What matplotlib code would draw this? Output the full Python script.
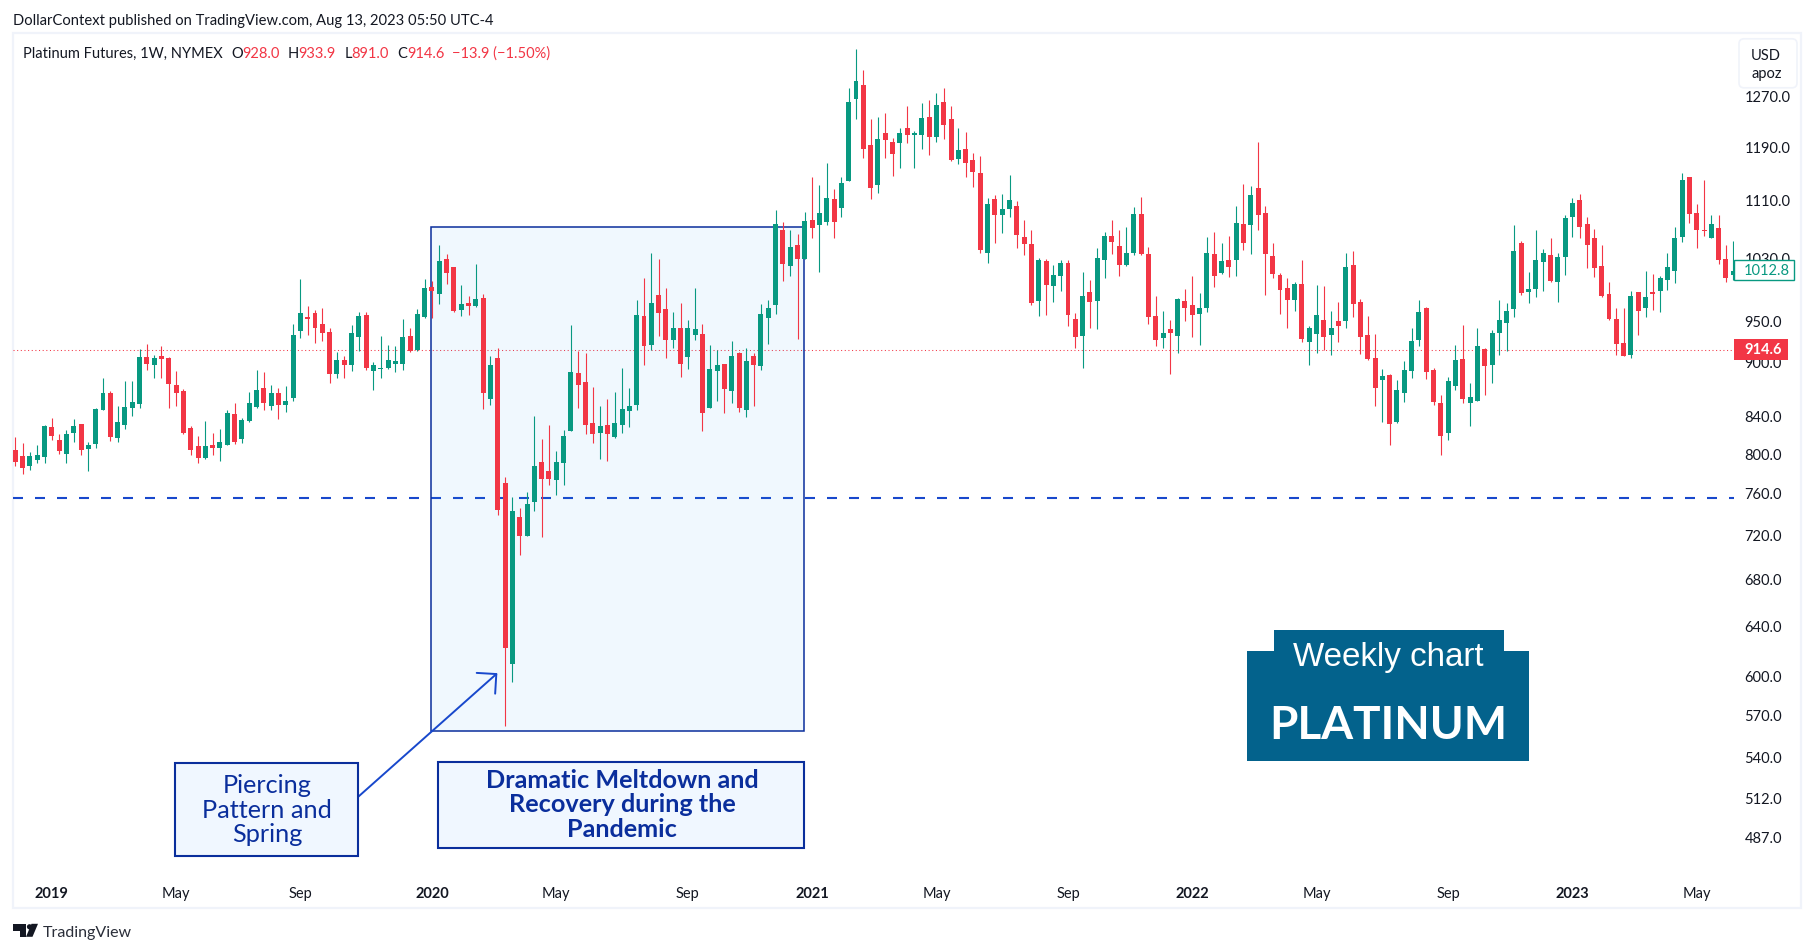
import matplotlib
matplotlib.use("Agg")
import matplotlib.pyplot as plt
from matplotlib.patches import Circle, Polygon, Rectangle, FancyBboxPatch
from matplotlib.transforms import Affine2D
from matplotlib.ticker import NullLocator
import numpy as np

opens = [803,797,787,793,796,827,814,799,821,831,
         804,809,846,865,816,830,848,852,906,896,
         907,905,874,867,826,807,795,808,805,808,
         841,815,834,849,870,850,865,851,859,937,
         954,959,945,936,886,902,896,930,956,890,
         892,893,898,898,931,914,954,992,983,1028,
         1018,963,971,968,978,858,905,770,609,736,
         719,751,791,782,773,790,823,887,877,832,
         821,829,817,830,845,851,955,920,982,964,
         926,940,906,932,933,848,890,898,867,911,
         846,907,895,953,969,1068,1019,1047,1028,1082,
         1075,1079,1111,1099,1137,1265,1288,1192,1132,1210,
         1197,1195,1218,1207,1207,1236,1204,1260,1233,1170,
         1186,1169,1150,1037,1111,1088,1097,1101,1058,1048,
         974,1026,993,1006,1023,951,931,985,974,1027,
         1060,1046,1020,1036,1090,1035,955,928,939,931,
         974,969,958,965,1035,1010,1027,1027,1076,1075,
         1127,1092,1032,1007,991,975,996,924,933,950,
         932,949,949,1020,973,932,905,879,885,833,
         865,889,926,965,891,853,821,873,904,853,
         856,915,897,934,946,964,1050,985,989,1024,
         1033,998,1031,1086,1110,1076,1057,1019,983,951,
         922,908,985,965,985,987,1001,1012,1058,1143,
         1092,1068,1057,1071,1028,1007]
highs = [817,810,801,808,829,837,820,824,836,831,
         811,848,881,867,850,878,878,915,921,908,
         919,906,889,869,828,818,834,821,825,846,
         853,837,866,891,888,874,870,873,945,1002,
         968,963,965,941,912,907,944,960,960,900,
         931,920,919,951,941,964,1002,1000,1047,1035,
         1018,994,980,1022,983,907,916,776,756,745,
         761,839,815,830,802,824,944,913,910,871,
         850,858,866,893,870,975,1003,1036,1028,991,
         960,971,950,991,945,920,914,898,925,912,
         917,910,970,975,1096,1079,1067,1062,1093,1143,
         1132,1164,1126,1143,1283,1350,1314,1233,1236,1242,
         1202,1218,1254,1213,1259,1263,1275,1283,1254,1218,
         1212,1179,1175,1113,1117,1119,1147,1109,1082,1067,
         1029,1028,1020,1027,1027,959,1011,1001,1043,1065,
         1082,1068,1072,1100,1114,1044,980,962,950,978,
         989,1006,984,1058,1065,1050,1060,1102,1133,1130,
         1197,1102,1050,1010,1003,998,1027,943,994,993,
         962,973,1037,1039,976,955,933,892,886,879,
         901,941,975,967,893,862,883,920,944,876,
         941,917,938,975,971,1075,1053,1011,1068,1042,
         1056,1036,1089,1113,1119,1086,1069,1047,998,965,
         965,987,985,1012,1009,1006,1037,1072,1150,1143,
         1104,1139,1088,1089,1047,1053]
lows = [787,779,783,790,790,814,799,790,812,798,
        782,805,846,813,811,825,839,848,891,882,
        882,848,850,820,798,790,794,798,792,808,
        809,810,833,848,846,846,836,844,856,928,
        932,922,925,876,881,881,889,913,891,868,
        882,892,888,891,912,913,953,953,970,995,
        960,955,957,967,847,851,738,562,595,701,
        719,742,718,768,758,768,823,848,820,810,
        794,792,816,821,827,846,896,914,931,905,
        917,883,892,926,823,848,856,843,853,844,
        838,850,891,921,958,1000,1006,927,1028,1056,
        1011,1074,1056,1086,1137,1233,1172,1111,1120,1172,
        1145,1157,1195,1157,1186,1177,1196,1201,1167,1163,
        1143,1129,1036,1023,1050,1064,1086,1043,1033,969,
        955,957,973,987,943,917,893,941,939,1003,
        1035,1006,1019,1033,1033,945,919,917,886,910,
        949,930,920,960,992,1009,1005,1006,1040,1035,
        1068,982,1003,958,941,962,924,897,910,914,
        908,924,941,954,909,902,850,833,808,832,
        855,882,919,880,851,798,814,868,853,828,
        856,862,876,908,913,954,982,971,979,987,
        998,973,1007,1058,1057,1016,1005,979,950,908,
        907,905,932,954,963,960,988,997,1051,1077,
        1043,1060,1056,1022,998,1001]
closes = [791,785,797,798,828,818,802,820,828,803,
          808,847,865,817,833,849,855,906,898,905,
          904,875,865,821,803,795,807,805,812,842,
          811,835,853,868,853,865,851,856,932,959,
          952,941,935,886,902,896,934,955,893,896,
          893,902,901,930,913,958,990,986,1026,1010,
          962,970,968,976,865,897,743,622,742,719,
          749,787,774,774,791,818,888,874,830,820,
          828,820,832,847,850,957,919,971,959,926,
          940,898,940,939,842,892,896,869,907,848,
          901,896,958,965,1076,1022,1044,1028,1080,1071,
          1092,1113,1079,1135,1260,1295,1186,1127,1201,1199,
          1178,1210,1208,1210,1234,1204,1255,1223,1169,1184,
          1164,1151,1040,1104,1088,1097,1110,1061,1048,971,
          1027,994,1007,1023,957,930,980,973,1029,1060,
          1051,1020,1036,1090,1035,954,926,934,934,976,
          965,957,965,1036,1006,1026,1018,1077,1050,1117,
          1089,1035,1009,988,975,996,927,940,957,930,
          941,943,1018,970,930,904,870,884,831,868,
          891,925,960,888,855,818,878,902,858,860,
          919,895,934,950,962,1039,984,989,1027,1037,
          1000,1031,1085,1106,1072,1047,1016,980,951,921,
          907,980,962,979,983,1003,1018,1056,1139,1090,
          1068,1066,1076,1027,1003,1013]

price_ticks = [1270, 1190, 1110, 1030, 950, 900, 840, 800, 760, 720, 680, 640, 600, 570, 540, 512, 487]
time_ticks = [5, 22, 39, 57, 74, 92, 109, 126, 144, 161, 178, 196, 213, 230]
time_labels = ["2019", "May", "Sep", "2020", "May", "Sep", "2021", "May", "Sep", "2022", "May", "Sep", "2023", "May"]
last_price = 914.6
support_level = 755
zone_bars = (56.9, 107.95)
zone_prices = (558.2, 1071.5)
arrow_tip = (65.94, 601.7)
arrow_tail = (46.9, 512.7)

UP = "#089981"
DOWN = "#f23645"
NAVY = "#0a2e9c"
BLUE = "#1848cc"
TEXT = "#131722"
BORDER = "#f0f3fa"
FONT = "Lato"

W, H = 1814, 953
YOFF = 0.8
plt.rcParams["font.family"] = FONT

fig = plt.figure(figsize=(W / 100, H / 100), dpi=100, facecolor="white")
px = Affine2D().translate(0, YOFF).scale(1 / W, -1 / H).translate(0, 1) + fig.transFigure

# chart pane, in reference pixels: x 12.5-1734, y 33-875
ax = fig.add_axes([12.5 / W, 1 - (875 + YOFF) / H, (1734 - 12.5) / W, (875 - 33) / H])
for s in ax.spines.values():
    s.set_visible(False)
ax.patch.set_alpha(0)
ax.set_yscale("log")
ax.set_xlim(-0.38, 235.1)
ax.set_ylim(463.5, 1378)

idx = np.arange(len(opens))
o, h, l, c = map(np.array, (opens, highs, lows, closes))
colors = np.where(c >= o, UP, DOWN)

ax.axhline(last_price, color=DOWN, lw=0.75, ls=(0, (1, 2.5)), zorder=1)
ax.axhline(support_level, color=BLUE, lw=1.5, ls=(0, (4.8, 5.76)), zorder=1)
ax.add_patch(Rectangle((zone_bars[0], zone_prices[0]), zone_bars[1] - zone_bars[0],
                       zone_prices[1] - zone_prices[0], fc="#2196f3", alpha=0.065, ec="none", zorder=2))
ax.add_patch(Rectangle((zone_bars[0], zone_prices[0]), zone_bars[1] - zone_bars[0],
                       zone_prices[1] - zone_prices[0], fc="none", ec=NAVY, lw=1.1, zorder=2))

ax.vlines(idx, l, h, colors=colors, lw=0.8, zorder=3)
ax.bar(idx, np.abs(c - o), bottom=np.minimum(o, c), width=0.68, color=colors, lw=0, zorder=4)

ax.annotate("", xy=arrow_tip, xytext=arrow_tail, zorder=5,
            arrowprops=dict(arrowstyle="->,head_length=1.0,head_width=1.0", mutation_scale=10,
                            color=BLUE, lw=1.4, shrinkA=0, shrinkB=0))

ax.yaxis.tick_right()
ax.yaxis.set_minor_locator(NullLocator())
ax.set_yticks(price_ticks)
ax.set_yticklabels([f"{p:.1f}" for p in price_ticks], fontsize=10.5, color=TEXT)
ax.tick_params(axis="y", length=0, pad=7.5)
ax.set_xticks(time_ticks)
ax.set_xticklabels(time_labels, fontsize=10.5, color=TEXT)
ax.tick_params(axis="x", length=0, pad=8)
for t in ax.get_xticklabels():
    if t.get_text().isdigit():
        t.set_fontweight("bold")

# panel border
fig.add_artist(Rectangle((12.5, 33), 1788.5, 875, transform=px, fc="none", ec=BORDER, lw=1.6, zorder=0))


def label(x, y, s, **kw):
    kw.setdefault("va", "center")
    kw.setdefault("fontsize", 10.5)
    kw.setdefault("color", TEXT)
    fig.text(x / W, 1 - (y + YOFF) / H, s, **kw)


label(13, 20, "DollarContext published on TradingView.com, Aug 13, 2023 05:50 UTC-4", fontsize=10.65)
label(23, 53, "Platinum Futures, 1W, NYMEX")
for x, s, col in [(231, "O", TEXT), (242, "928.0", DOWN), (288, "H", TEXT), (298.5, "933.9", DOWN),
                  (344.5, "L", TEXT), (351, "891.0", DOWN), (397, "C", TEXT), (407, "914.6", DOWN),
                  (452.5, "\u221213.9 (\u22121.50%)", DOWN)]:
    label(x, 53, s, color=col)

# unit box
fig.add_artist(FancyBboxPatch((1743, 43), 50, 41, boxstyle="round,pad=4,rounding_size=5", transform=px,
                              fc="white", ec=BORDER, lw=1.2, zorder=5))
label(1751, 55, "USD", zorder=6)
label(1751, 73, "apoz", zorder=6)

# price labels on the scale
fig.add_artist(Rectangle((1734, 260), 60, 20, transform=px, fc="white", ec=UP, lw=1, zorder=5))
label(1744, 270, "1012.8", color=UP, zorder=6)
fig.add_artist(Rectangle((1734, 339), 54, 21, transform=px, fc=DOWN, ec="none", zorder=5))
label(1744, 349.5, "914.6", color="white", fontweight="bold", zorder=6)

# callouts
fig.add_artist(Rectangle((175, 763), 183, 93, transform=px, fc="#f0f7ff", ec=NAVY, lw=1.5, zorder=6))
label(267, 809.5, "Piercing\nPattern and\nSpring", ha="center", fontsize=18.2, color=NAVY,
      linespacing=1.07, zorder=7)
fig.add_artist(Rectangle((438, 762), 366, 86, transform=px, fc="#f0f7ff", ec=NAVY, lw=1.5, zorder=6))
label(622, 804, "Dramatic Meltdown and\nRecovery during the\nPandemic", ha="center", fontsize=18.2,
      color=NAVY, fontweight="bold", linespacing=1.07, zorder=7)

# banner
banner = [(1247, 761), (1247, 651), (1273.5, 651), (1273.5, 630), (1503.5, 630), (1503.5, 651), (1529, 651), (1529, 761)]
fig.add_artist(Polygon(banner, closed=True, transform=px, fc="#03628c", ec="none", zorder=6))
label(1388.5, 657, "Weekly chart", ha="center", color="white", fontsize=23.9, family="Liberation Sans", zorder=7)
label(1388, 725, "PLATINUM", ha="center", color="white", fontsize=33, fontweight="bold", zorder=7)

# logo
fig.add_artist(Polygon([(13, 924), (26, 924), (26, 937), (20, 937), (20, 931), (13, 931)], closed=True,
                       transform=px, fc=TEXT, ec="none"))
fig.add_artist(Circle((29.5, 927), 2.6, transform=px, fc=TEXT, ec="none"))
fig.add_artist(Polygon([(31.5, 924), (38, 924), (32.5, 937), (26, 937)], closed=True, transform=px, fc=TEXT, ec="none"))
label(42.5, 932.5, "TradingView", fontsize=11.5, color="#2a2e39")

fig.savefig("out.png", dpi=100)
